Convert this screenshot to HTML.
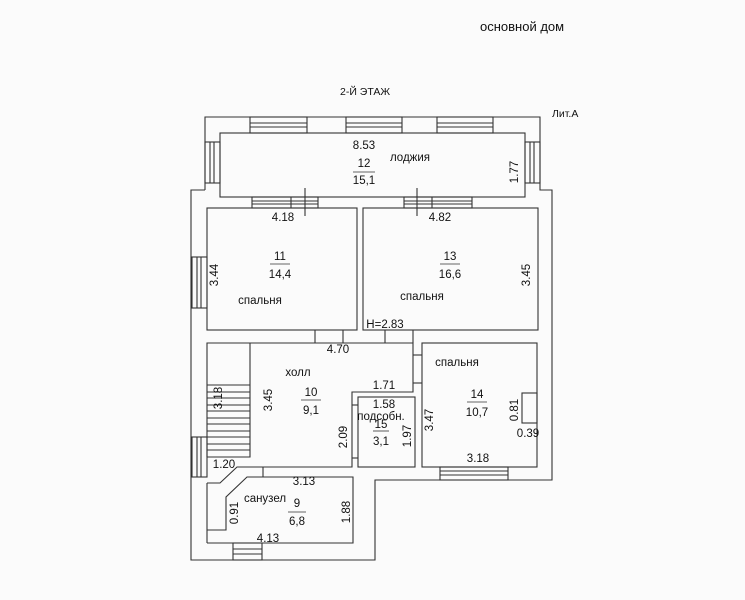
<!DOCTYPE html>
<html><head><meta charset="utf-8">
<style>
html,body{margin:0;padding:0;background:#fff;}
svg{display:block;}
text{font-family:"Liberation Sans",sans-serif;fill:#111;}
</style></head>
<body>
<svg width="745" height="600" viewBox="0 0 745 600" xmlns="http://www.w3.org/2000/svg">
<rect width="745" height="600" fill="#fbfbfb"/>
<g fill="none" stroke="#333" stroke-width="1.1">
<polyline points="205,190 205,117 540,117 540,190 552,190 552,480 375,480 375,560 191,560 191,190 205,190"/>
<rect x="220" y="133" width="305" height="64"/>
<g>
<rect x="250" y="117" width="57" height="16"/><line x1="250" y1="123" x2="307" y2="123"/><line x1="250" y1="127" x2="307" y2="127"/>
<rect x="346" y="117" width="56" height="16"/><line x1="346" y1="123" x2="402" y2="123"/><line x1="346" y1="127" x2="402" y2="127"/>
<rect x="437" y="117" width="56" height="16"/><line x1="437" y1="123" x2="493" y2="123"/><line x1="437" y1="127" x2="493" y2="127"/>
<rect x="205" y="142" width="15" height="41"/><line x1="210" y1="142" x2="210" y2="183"/><line x1="214" y1="142" x2="214" y2="183"/>
<rect x="525" y="142" width="15" height="41"/><line x1="530" y1="142" x2="530" y2="183"/><line x1="534" y1="142" x2="534" y2="183"/>
</g>
<rect x="252" y="197" width="66" height="11"/><line x1="252" y1="201" x2="318" y2="201"/><line x1="252" y1="204" x2="318" y2="204"/><line x1="291" y1="197" x2="291" y2="208"/>
<line x1="305" y1="188" x2="305" y2="216"/>
<rect x="404" y="197" width="68" height="11"/><line x1="404" y1="201" x2="472" y2="201"/><line x1="404" y1="204" x2="472" y2="204"/><line x1="432" y1="197" x2="432" y2="208"/>
<line x1="417" y1="188" x2="417" y2="216"/>
<rect x="207" y="208" width="150" height="122"/>
<rect x="363" y="208" width="175" height="122"/>
<rect x="192" y="257" width="15" height="51"/><line x1="197" y1="257" x2="197" y2="308"/><line x1="201" y1="257" x2="201" y2="308"/>
<line x1="315" y1="330" x2="315" y2="343"/><line x1="343" y1="330" x2="343" y2="343"/>
<line x1="385" y1="330" x2="385" y2="343"/><line x1="413" y1="330" x2="413" y2="343"/>
<polyline points="207,457 207,343 413,343 413,392 352,392 352,467 237,467 220,483 207,483"/>
<polyline points="250,343 250,457 207,457"/>
<g stroke-width="0.9">
<line x1="207" y1="385" x2="250" y2="385"/><line x1="207" y1="392" x2="250" y2="392"/><line x1="207" y1="398" x2="250" y2="398"/><line x1="207" y1="405" x2="250" y2="405"/><line x1="207" y1="411" x2="250" y2="411"/><line x1="207" y1="418" x2="250" y2="418"/><line x1="207" y1="424" x2="250" y2="424"/><line x1="207" y1="431" x2="250" y2="431"/><line x1="207" y1="437" x2="250" y2="437"/><line x1="207" y1="444" x2="250" y2="444"/><line x1="207" y1="450" x2="250" y2="450"/>
</g>
<rect x="192" y="437" width="15" height="40"/><line x1="197" y1="437" x2="197" y2="477"/><line x1="201" y1="437" x2="201" y2="477"/>
<line x1="413" y1="355" x2="422" y2="355"/><line x1="413" y1="383" x2="422" y2="383"/>
<rect x="358" y="397" width="57" height="70"/>
<line x1="352" y1="405" x2="358" y2="405"/><line x1="352" y1="458" x2="358" y2="458"/>
<rect x="422" y="343" width="115" height="124"/>
<rect x="522" y="393" width="15" height="30"/>
<rect x="440" y="467" width="68" height="13"/><line x1="440" y1="471" x2="508" y2="471"/><line x1="440" y1="475" x2="508" y2="475"/>
<polyline points="207,530 226,530 226,497 247,477 353,477 353,543 207,543"/>
<line x1="207" y1="483" x2="207" y2="543"/>
<line x1="263" y1="467" x2="263" y2="477"/>
<rect x="233" y="543" width="29" height="17"/><line x1="233" y1="549" x2="262" y2="549"/><line x1="233" y1="554" x2="262" y2="554"/>
</g>
<g stroke="#333" stroke-width="0.8">
<line x1="353" y1="172" x2="375" y2="172"/>
<line x1="270" y1="264" x2="290" y2="264"/>
<line x1="440" y1="264" x2="460" y2="264"/>
<line x1="301" y1="400" x2="321" y2="400"/>
<line x1="467" y1="402" x2="487" y2="402"/>
<line x1="373" y1="431" x2="389" y2="431"/>
<line x1="288" y1="512" x2="306" y2="512"/>
</g>
<g font-size="13">
<text x="480" y="31">основной дом</text>
</g>
<g font-size="10.5">
<text x="340" y="95">2-Й ЭТАЖ</text>
<text x="552" y="117">Лит.А</text>
</g>
<g font-size="11.5" text-anchor="middle">
<text x="364" y="149">8.53</text>
<text x="410" y="161">лоджия</text>
<text x="364" y="167">12</text>
<text x="364" y="184">15,1</text>
<text x="283" y="221">4.18</text>
<text x="440" y="221">4.82</text>
<text x="280" y="260">11</text>
<text x="280" y="278">14,4</text>
<text x="450" y="260">13</text>
<text x="450" y="278">16,6</text>
<text x="260" y="304">спальня</text>
<text x="422" y="300">спальня</text>
<text x="385" y="328">H=2.83</text>
<text x="338" y="353">4.70</text>
<text x="298" y="376">холл</text>
<text x="311" y="396">10</text>
<text x="311" y="414">9,1</text>
<text x="384" y="389">1.71</text>
<text x="457" y="366">спальня</text>
<text x="477" y="398">14</text>
<text x="477" y="416">10,7</text>
<text x="384" y="408">1.58</text>
<text x="381" y="420">подсобн.</text>
<text x="381" y="428">15</text>
<text x="381" y="445">3,1</text>
<text x="528" y="437">0.39</text>
<text x="478" y="462">3.18</text>
<text x="224" y="468">1.20</text>
<text x="304" y="485">3.13</text>
<text x="265" y="502">санузел</text>
<text x="297" y="507">9</text>
<text x="297" y="525">6,8</text>
<text x="268" y="542">4.13</text>
</g>
<g font-size="11.5" text-anchor="middle">
<text transform="translate(518,172) rotate(-90)">1.77</text>
<text transform="translate(218,275) rotate(-90)">3.44</text>
<text transform="translate(530,275) rotate(-90)">3.45</text>
<text transform="translate(222,398) rotate(-90)">3.18</text>
<text transform="translate(272,400) rotate(-90)">3.45</text>
<text transform="translate(347,437) rotate(-90)">2.09</text>
<text transform="translate(411,436) rotate(-90)">1.97</text>
<text transform="translate(433,420) rotate(-90)">3.47</text>
<text transform="translate(518,410) rotate(-90)">0.81</text>
<text transform="translate(238,513) rotate(-90)">0.91</text>
<text transform="translate(350,512) rotate(-90)">1.88</text>
</g>
</svg>
</body></html>
